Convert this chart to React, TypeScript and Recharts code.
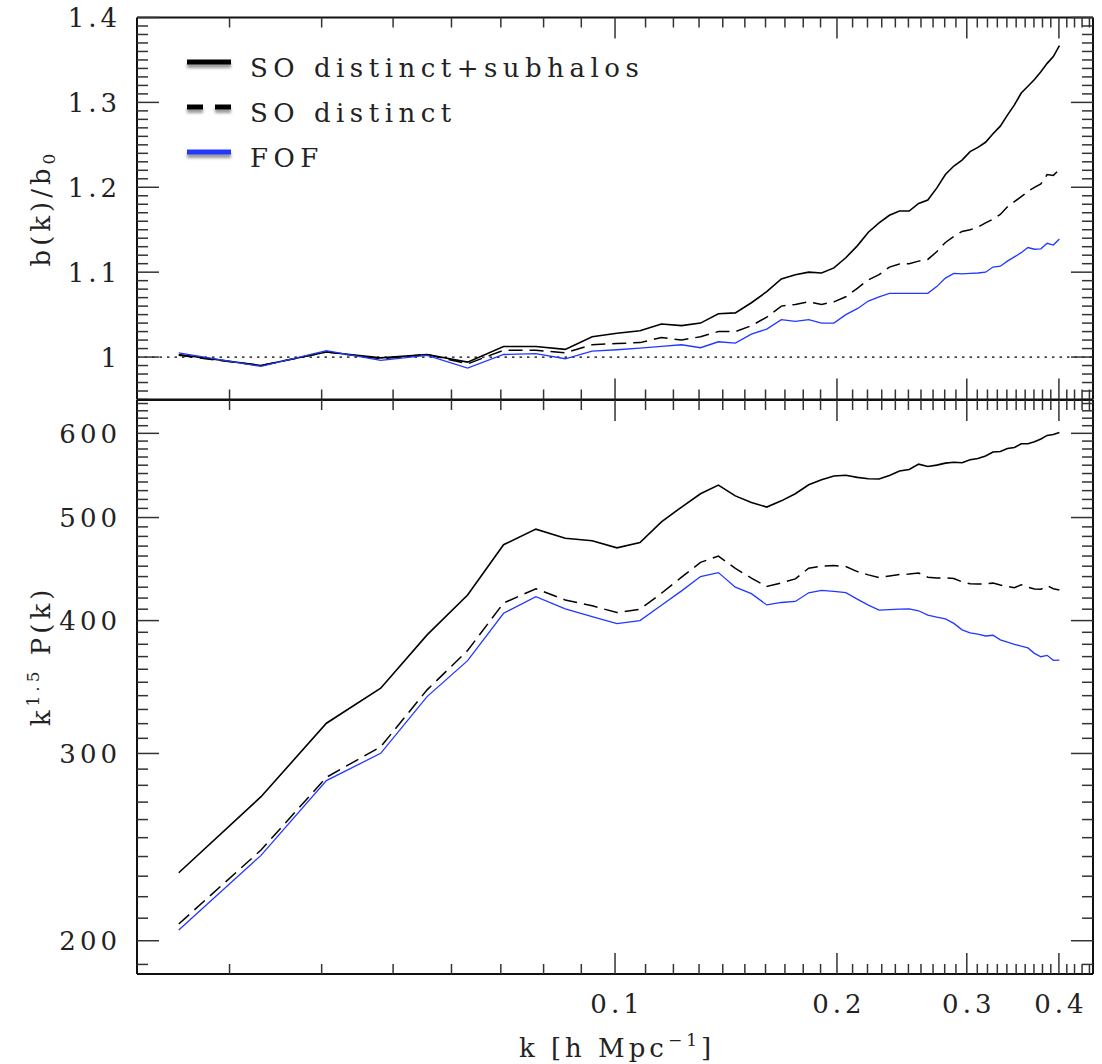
import React from 'react';
import { LineChart, Line, XAxis, YAxis, ReferenceLine } from 'recharts';

// wavenumbers of the measured bins (h/Mpc)
const kValues = [
  0.0256, 0.0331, 0.0406, 0.0481, 0.0556, 0.0631, 0.0706, 0.0781, 0.0856, 0.0931,
  0.1006, 0.1081, 0.1156, 0.1231, 0.1306, 0.1381, 0.1456, 0.1531, 0.1606, 0.1681,
  0.1756, 0.1831, 0.1906, 0.1981, 0.2056, 0.2131, 0.2206, 0.2281, 0.2356, 0.2431,
  0.2506, 0.2581, 0.2656, 0.2731, 0.2806, 0.2881, 0.2956, 0.3031, 0.3106, 0.3181,
  0.3256, 0.3331, 0.3406, 0.3481, 0.3556, 0.3631, 0.3706, 0.3781, 0.3856, 0.3931, 0.4006,
];

// b(k)/b0
const biasSoAll = [
  1.003, 0.99, 1.006, 0.999, 1.003, 0.994, 1.0125, 1.0125, 1.009, 1.024,
  1.028, 1.031, 1.039, 1.037, 1.04, 1.051, 1.052, 1.064, 1.077, 1.092,
  1.097, 1.1, 1.099, 1.105, 1.117, 1.131, 1.147, 1.158, 1.167, 1.172,
  1.172, 1.181, 1.185, 1.199, 1.215, 1.225, 1.232, 1.242, 1.247, 1.253,
  1.263, 1.272, 1.285, 1.297, 1.311, 1.319, 1.327, 1.336, 1.346, 1.354, 1.367,
];
const biasSoDistinct = [
  1.002, 0.99, 1.006, 0.998, 1.003, 0.992, 1.008, 1.008, 1.005, 1.0145,
  1.016, 1.017, 1.023, 1.02, 1.024, 1.03, 1.03, 1.037, 1.047, 1.06,
  1.062, 1.065, 1.062, 1.065, 1.071, 1.081, 1.091, 1.097, 1.106, 1.1095,
  1.11, 1.113, 1.115, 1.124, 1.135, 1.142, 1.148, 1.15, 1.153, 1.158,
  1.1625, 1.168, 1.177, 1.183, 1.189, 1.195, 1.2, 1.204, 1.215, 1.214, 1.221,
];
const biasFof = [
  1.005, 0.989, 1.0075, 0.996, 1.002, 0.987, 1.003, 1.004, 0.998, 1.007,
  1.0086, 1.0106, 1.0125, 1.0145, 1.011, 1.018, 1.0165, 1.027, 1.033, 1.044,
  1.042, 1.044, 1.04, 1.04, 1.05, 1.057, 1.066, 1.071, 1.075, 1.075,
  1.075, 1.075, 1.075, 1.083, 1.093, 1.0985, 1.098, 1.0985, 1.099, 1.1,
  1.106, 1.107, 1.113, 1.118, 1.123, 1.129, 1.127, 1.1275, 1.134, 1.132, 1.139,
];

// k^1.5 P(k)
const powerSoAll = [
  231.7, 273.2, 320.3, 345.5, 387.8, 422.8, 471.4, 487.6, 478, 475.5,
  468.2, 473.6, 495.4, 511.5, 526.4, 536.4, 524, 516.5, 511.5, 518.4,
  526.4, 536.8, 542.6, 547, 548, 545.4, 543.8, 543.5, 547.7, 553,
  554.8, 561.3, 558.4, 560.1, 562.5, 563.6, 563, 566.6, 568.2, 571.3,
  576.2, 576.9, 580.6, 581.8, 586.6, 586.6, 589.2, 592.6, 597.3, 598.5, 601.1,
];
const powerSoDistinct = [
  207.4, 243.4, 284.9, 304.4, 344.3, 374.9, 415.5, 428.6, 418.3, 413,
  407, 410, 424.4, 439.4, 453.7, 460, 447.8, 438.6, 430.6, 434,
  437.8, 448, 450, 450.6, 449.6, 444.8, 441.6, 439, 440.6, 442,
  442.4, 443.4, 439.4, 438.6, 438.9, 438.1, 435, 433.2, 433, 433.2,
  433.8, 432, 430.6, 429.6, 432.3, 430, 428.4, 428.1, 431.4, 428.6, 427.4,
];
const powerFof = [
  204.7, 240.6, 282.9, 300.1, 339.3, 366.8, 406.4, 421.2, 410.3, 403.4,
  397.4, 400, 413.6, 426.6, 440, 443.8, 430, 424, 413.8, 416,
  416.9, 424.8, 427, 426.1, 425, 419, 413.6, 409.2, 409.7, 410,
  410.3, 408.6, 404.7, 403, 401.5, 397.6, 392.1, 389.5, 388.4, 386.9,
  387.5, 383.7, 381.7, 380, 378.4, 377, 372.6, 369.9, 371, 367, 367.2,
];

const kTicks = [
  0.03, 0.04, 0.05, 0.06, 0.07, 0.08, 0.09, 0.1, 0.11, 0.12, 0.13, 0.14, 0.15, 0.16,
  0.17, 0.18, 0.19, 0.2, 0.21, 0.22, 0.23, 0.24, 0.25, 0.26, 0.27, 0.28, 0.29, 0.3,
  0.31, 0.32, 0.33, 0.34, 0.35, 0.36, 0.37, 0.38, 0.39, 0.4, 0.41, 0.42, 0.43, 0.44,
];
const kMajor = [0.1, 0.2, 0.3, 0.4];
const kLabels = ['0.1', '0.2', '0.3', '0.4'];

const biasTicks = [
  0.95, 0.96, 0.97, 0.98, 0.99, 1, 1.01, 1.02, 1.03, 1.04, 1.05, 1.06, 1.07, 1.08, 1.09,
  1.1, 1.11, 1.12, 1.13, 1.14, 1.15, 1.16, 1.17, 1.18, 1.19, 1.2, 1.21, 1.22, 1.23, 1.24,
  1.25, 1.26, 1.27, 1.28, 1.29, 1.3, 1.31, 1.32, 1.33, 1.34, 1.35, 1.36, 1.37, 1.38, 1.39, 1.4,
];
const biasMajor = [1, 1.1, 1.2, 1.3, 1.4];
const biasLabels = ['1', '1.1', '1.2', '1.3', '1.4'];

const powerTicks = [
  190, 200, 210, 220, 230, 240, 250, 260, 270, 280, 290, 300, 310, 320, 330, 340,
  350, 360, 370, 380, 390, 400, 410, 420, 430, 440, 450, 460, 470, 480, 490, 500,
  510, 520, 530, 540, 550, 560, 570, 580, 590, 600, 610, 620, 630, 640,
];
const powerMajor = [200, 300, 400, 500, 600];
const powerLabels = ['200', '300', '400', '500', '600'];

const legendNames = ['SO distinct+subhalos', 'SO distinct', 'FOF'];

const K_DOMAIN: [number, number] = [0.02247, 0.44494];
const BIAS_DOMAIN: [number, number] = [0.95, 1.4];
const POWER_DOMAIN: [number, number] = [186.1, 644.9];

const FONT = '"DejaVu Serif", "Liberation Serif", serif';
const INK = '#111';
const BLUE = '#2138ff';
const DASH = '14 7';

const rows = kValues.map((k, i) => ({
  k,
  biasSoAll: biasSoAll[i],
  biasSoDistinct: biasSoDistinct[i],
  biasFof: biasFof[i],
  powerSoAll: powerSoAll[i],
  powerSoDistinct: powerSoDistinct[i],
  powerFof: powerFof[i],
}));

type Side = 'left' | 'right' | 'top' | 'bottom';

const indexOf = (v: number, list: number[]) => list.findIndex((m) => Math.abs(m - v) < 1e-9);

// inward-pointing ticks, labels only on majors
const makeTick =
  (side: Side, majors: number[], labels: string[] | null, majorLen: number, minorLen: number) =>
  (props: any) => {
    const { x, y, payload } = props;
    const idx = indexOf(payload.value, majors);
    const len = idx >= 0 ? majorLen : minorLen;
    const dx = side === 'left' ? len : side === 'right' ? -len : 0;
    const dy = side === 'top' ? len : side === 'bottom' ? -len : 0;
    let label: React.ReactNode = null;
    if (labels && idx >= 0) {
      if (side === 'left') {
        label = (
          <text x={x - 16} y={y + 9.5} textAnchor="end" fontFamily={FONT} fontSize={26}
            letterSpacing={4} fill="#222">
            {labels[idx]}
          </text>
        );
      } else {
        label = (
          <text x={x + 2} y={y + 39} textAnchor="middle" fontFamily={FONT} fontSize={26}
            letterSpacing={4} fill="#222">
            {labels[idx]}
          </text>
        );
      }
    }
    return (
      <g>
        <line x1={x} y1={y} x2={x + dx} y2={y + dy} stroke="#333" strokeWidth={1.5} />
        {label}
      </g>
    );
  };

const frame = { stroke: INK, strokeWidth: 2 };
const bare = { tickSize: 0, tickMargin: 0, tickLine: false, interval: 0 as const, axisLine: frame };

const App: React.FC = () => {
  return (
    <div style={{ position: 'absolute', left: 0, top: 0, width: 1102, height: 1064, background: '#fff' }}>
      {/* upper panel: scale-dependent bias */}
      <div style={{ position: 'absolute', left: 0, top: 0 }}>
        <LineChart width={1102} height={401} data={rows} margin={{ top: 16.5, right: 0, bottom: 0.5, left: 0 }}>
          <XAxis xAxisId="b" dataKey="k" type="number" scale="log" domain={K_DOMAIN} allowDataOverflow
            ticks={kTicks} height={1} {...bare} tick={makeTick('bottom', kMajor, null, 21, 10)} />
          <XAxis xAxisId="t" orientation="top" dataKey="k" type="number" scale="log" domain={K_DOMAIN}
            allowDataOverflow ticks={kTicks} height={1} {...bare} tick={makeTick('top', kMajor, null, 21, 10)} />
          <YAxis yAxisId="l" type="number" domain={BIAS_DOMAIN} allowDataOverflow ticks={biasTicks}
            width={137} {...bare} tick={makeTick('left', biasMajor, biasLabels, 22, 11)} />
          <YAxis yAxisId="r" orientation="right" type="number" domain={BIAS_DOMAIN} allowDataOverflow
            ticks={biasTicks} width={9} {...bare} tick={makeTick('right', biasMajor, null, 22, 11)} />
          <ReferenceLine xAxisId="b" yAxisId="l" y={1} stroke="#000" strokeWidth={1.2} strokeDasharray="2.5 5" />
          <Line xAxisId="b" yAxisId="l" type="linear" dataKey="biasSoAll" stroke="#000" strokeWidth={1.6}
            dot={false} activeDot={false} isAnimationActive={false} />
          <Line xAxisId="b" yAxisId="l" type="linear" dataKey="biasSoDistinct" stroke="#000" strokeWidth={1.5}
            strokeDasharray={DASH} dot={false} activeDot={false} isAnimationActive={false} />
          <Line xAxisId="b" yAxisId="l" type="linear" dataKey="biasFof" stroke={BLUE} strokeWidth={1.3}
            dot={false} activeDot={false} isAnimationActive={false} />
        </LineChart>
      </div>

      {/* lower panel: k^1.5 P(k) */}
      <div style={{ position: 'absolute', left: 0, top: 392 }}>
        <LineChart width={1102} height={672} data={rows} margin={{ top: 7, right: 0, bottom: 89, left: 0 }}>
          <XAxis xAxisId="b" dataKey="k" type="number" scale="log" domain={K_DOMAIN} allowDataOverflow
            ticks={kTicks} height={1} {...bare} tick={makeTick('bottom', kMajor, kLabels, 21, 10)} />
          <XAxis xAxisId="t" orientation="top" dataKey="k" type="number" scale="log" domain={K_DOMAIN}
            allowDataOverflow ticks={kTicks} height={1} {...bare} tick={makeTick('top', kMajor, null, 21, 10)} />
          <YAxis yAxisId="l" type="number" scale="log" domain={POWER_DOMAIN} allowDataOverflow
            ticks={powerTicks} width={137} {...bare} tick={makeTick('left', powerMajor, powerLabels, 22, 11)} />
          <YAxis yAxisId="r" orientation="right" type="number" scale="log" domain={POWER_DOMAIN}
            allowDataOverflow ticks={powerTicks} width={9} {...bare}
            tick={makeTick('right', powerMajor, null, 22, 11)} />
          <Line xAxisId="b" yAxisId="l" type="linear" dataKey="powerSoAll" stroke="#000" strokeWidth={1.6}
            dot={false} activeDot={false} isAnimationActive={false} />
          <Line xAxisId="b" yAxisId="l" type="linear" dataKey="powerSoDistinct" stroke="#000" strokeWidth={1.5}
            strokeDasharray={DASH} dot={false} activeDot={false} isAnimationActive={false} />
          <Line xAxisId="b" yAxisId="l" type="linear" dataKey="powerFof" stroke={BLUE} strokeWidth={1.3}
            dot={false} activeDot={false} isAnimationActive={false} />
        </LineChart>
      </div>

      {/* titles + legend */}
      <svg width={1102} height={1064} style={{ position: 'absolute', left: 0, top: 0, pointerEvents: 'none' }}>
        <defs>
          <filter id="soft" x="-20%" y="-100%" width="140%" height="300%">
            <feGaussianBlur stdDeviation="1.6" />
          </filter>
        </defs>
        <g fontFamily={FONT} fontSize={26} fill="#222" letterSpacing={4}>
          <text x={617} y={1057} textAnchor="middle">
            k [h Mpc
            <tspan fontSize={17} dy={-11}>−1</tspan>
            <tspan dy={11}>]</tspan>
          </text>
          <text x={50} y={208} textAnchor="middle" transform="rotate(-90 50 208)">
            b(k)/b
            <tspan fontSize={17} dy={5}>0</tspan>
          </text>
          <text x={50} y={656} textAnchor="middle" transform="rotate(-90 50 656)">
            k
            <tspan fontSize={17} dy={-11}>1.5</tspan>
            <tspan dy={11}> P(k)</tspan>
          </text>
        </g>
        {legendNames.map((name, i) => {
          const ly = 62 + i * 45;
          return (
            <g key={name}>
              {i === 1 ? (
                <>
                  <rect x={187} y={ly + 1} width={16} height={5} fill="#999" filter="url(#soft)" />
                  <rect x={215} y={ly + 1} width={16} height={5} fill="#999" filter="url(#soft)" />
                  <rect x={187} y={ly - 2.5} width={16} height={5} fill="#000" />
                  <rect x={215} y={ly - 2.5} width={16} height={5} fill="#000" />
                </>
              ) : (
                <>
                  <rect x={187} y={ly + 1} width={44} height={5} fill="#999" filter="url(#soft)" />
                  <rect x={187} y={ly - 2.5} width={44} height={5} fill={i === 2 ? BLUE : '#000'} />
                </>
              )}
              <text x={250} y={ly + 15} fontFamily={FONT} fontSize={26} letterSpacing={5.5} fill="#222">
                {name}
              </text>
            </g>
          );
        })}
      </svg>
    </div>
  );
};

export default App;
